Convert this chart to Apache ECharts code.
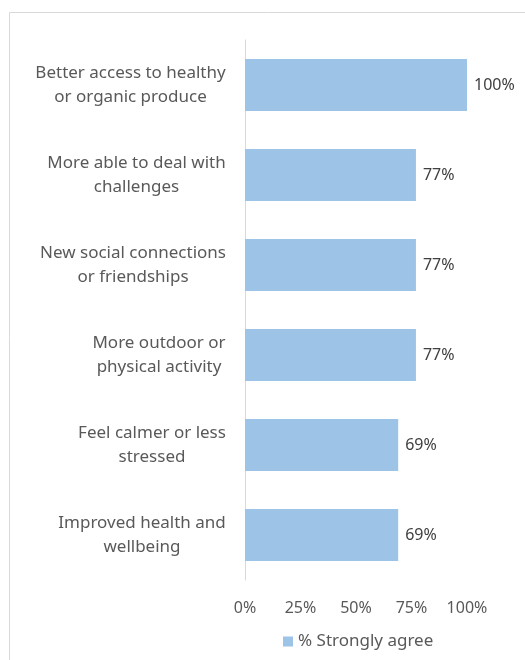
<!DOCTYPE html>
<html><head><meta charset="utf-8">
<script src="https://cdn.jsdelivr.net/npm/echarts@6/dist/echarts.min.js"></script>
<style>html,body{margin:0;padding:0;background:#fff}#c{width:525px;height:660px}</style>
</head><body><div id="c"></div>
<script>
const categories = [
  "Better access to healthy\nor organic produce",
  "More able to deal with\nchallenges",
  "New social connections\nor friendships",
  "More outdoor or\nphysical activity",
  "Feel calmer or less\nstressed",
  "Improved health and\nwellbeing"
];
const values = [100, 77, 77, 77, 69, 69];
const xTicks = [0, 25, 50, 75, 100];
const seriesName = "% Strongly agree";

const FONT = "Noto Sans";
const FS = 17;
const FS2 = 16;
const ctx = document.createElement('canvas').getContext('2d');
ctx.font = FS + 'px "' + FONT + '"';
const rich = {};
categories.forEach((c, i) => {
  const w = Math.max(...c.split('\n').map(l => ctx.measureText(l).width));
  rich['r' + i] = {width: Math.ceil(w) + 2, align: 'center', fontFamily: FONT, fontSize: FS, color: '#595959', lineHeight: 24};
});

const chart = echarts.init(document.getElementById('c'), null, {renderer: 'canvas'});
chart.setOption({
  animation: false,
  textStyle: {fontFamily: FONT},
  graphic: [{type: 'rect', shape: {x: 9.5, y: 12.5, width: 530, height: 660}, style: {fill: 'none', stroke: '#d9d9d9', lineWidth: 1}, silent: true}],
  grid: {left: 245, right: 58, top: 40, bottom: 80, containLabel: false},
  legend: {
    data: [seriesName], left: 278, top: 628, icon: 'rect', itemWidth: 10, itemHeight: 10, itemGap: 5,
    textStyle: {color: '#595959', fontSize: FS, fontFamily: FONT}
  },
  xAxis: {
    type: 'value', min: 0, max: 100, interval: 25,
    axisLine: {show: false}, axisTick: {show: false}, splitLine: {show: false},
    axisLabel: {formatter: v => xTicks.includes(v) ? v + '%' : '', color: '#595959', fontSize: FS2, fontFamily: FONT, margin: 20}
  },
  yAxis: {
    type: 'category', data: categories, inverse: true,
    axisLine: {show: true, lineStyle: {color: '#d9d9d9', width: 1}},
    axisTick: {show: false},
    axisLabel: {
      margin: 18, align: 'right',
      formatter: (v, i) => v.split('\n').map(l => '{r' + i + '|' + l + '}').join('\n'),
      rich: rich
    }
  },
  series: [{
    name: seriesName, type: 'bar', data: values, barCategoryGap: '42%',
    itemStyle: {color: '#9dc3e6'},
    label: {show: true, position: 'right', distance: 7, formatter: p => p.value + '%', color: '#404040', fontSize: FS2, fontFamily: FONT}
  }]
});
</script></body></html>
